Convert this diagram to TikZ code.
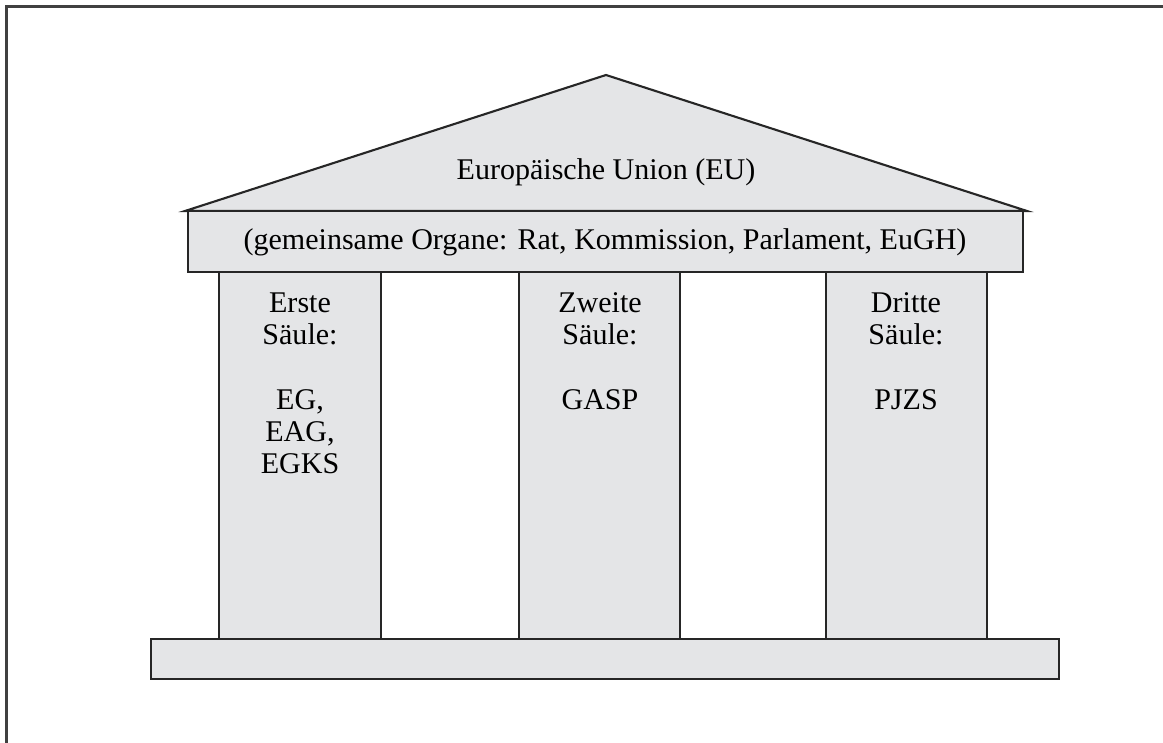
\documentclass[tikz,border=0pt]{standalone}
\usepackage{fontspec}
\setmainfont{Liberation Serif}
\definecolor{stone}{HTML}{E4E5E7}
\begin{document}
\begin{tikzpicture}[x=0.02cm,y=-0.02cm,
    stonepart/.style={draw=black!85,fill=stone,line width=1.2pt},
    txt/.style={font=\fontsize{17.1}{18.4}\selectfont,align=center,inner sep=0pt}]
    \useasboundingbox (0,0) rectangle (1163,743);
    \draw[line width=1.4pt,black!75] (6.5,760) -- (6.5,6.5) -- (1180,6.5); % frame
    \draw[stonepart] (185,211) -- (606,75) -- (1027,211) -- cycle; % roof
    \draw[stonepart] (188,211) rectangle (1023,272); % entablature
    \draw[stonepart] (219,272) rectangle (381,639); % first pillar
    \draw[stonepart] (519,272) rectangle (680,639); % second pillar
    \draw[stonepart] (826,272) rectangle (987,639); % third pillar
    \draw[stonepart] (151,639) rectangle (1059,679); % base
    \node[txt] (eu) at (606,172) {Europäische Union (EU)};
    \node[txt] (organe) at (605,242) {(gemeinsame Organe: Rat, Kommission, Parlament, EuGH)};
    \node[txt,anchor=north] (erste) at (300,292) {Erste\\Säule:\\[18.4pt]EG,\\EAG,\\EGKS};
    \node[txt,anchor=north] (zweite) at (600,292) {Zweite\\Säule:\\[18.4pt]GASP};
    \node[txt,anchor=north] (dritte) at (906,292) {Dritte\\Säule:\\[18.4pt]PJZS};
  \end{tikzpicture}
\end{document}
